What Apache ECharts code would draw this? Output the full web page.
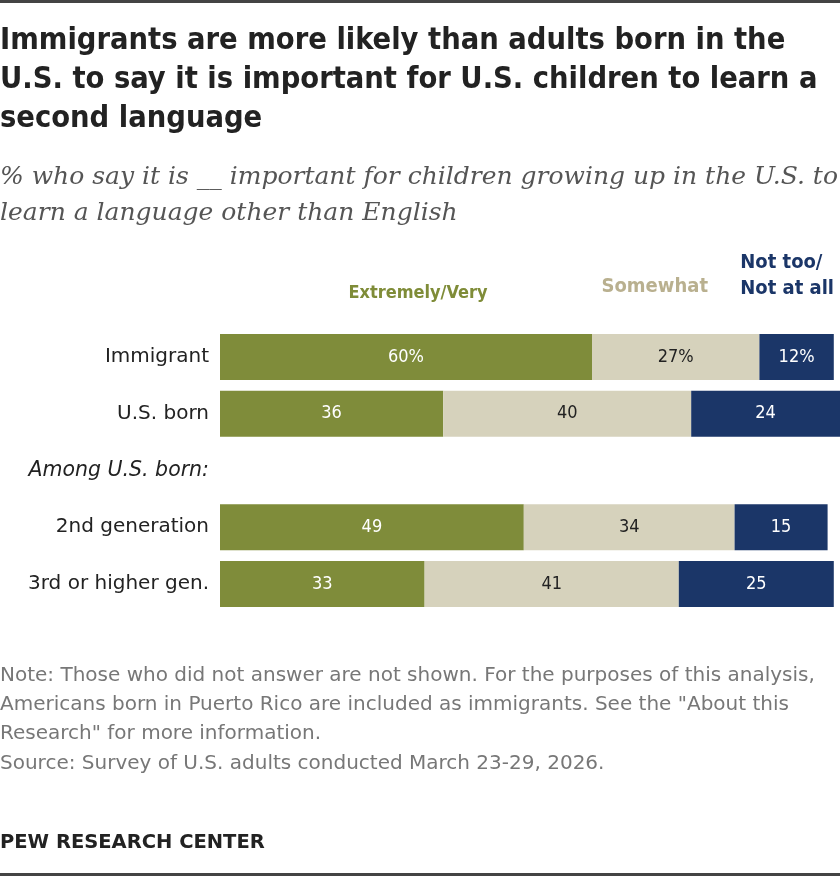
<!DOCTYPE html>
<html>
<head>
<meta charset="utf-8">
<script src="https://cdn.jsdelivr.net/npm/echarts@6/dist/echarts.min.js"></script>
<style>
  html, body { margin: 0; padding: 0; background: #fff; }
  #main { width: 840px; height: 876px; }
</style>
</head>
<body>
<div id="main"></div>
<script>
var categories = ['Immigrant', 'U.S. born', 'Among U.S. born:', '2nd generation', '3rd or higher gen.'];
var veryValues = [60, 36, null, 49, 33];
var somewhatValues = [27, 40, null, 34, 41];
var notValues = [12, 24, null, 15, 25];

var COND = '"DejaVu Sans Condensed", "Liberation Sans Narrow", sans-serif';
var SANS = '"DejaVu Sans", "Liberation Sans", sans-serif';
var myChart = echarts.init(document.getElementById('main'));

function labelFmt(p) {
  if (p.value == null) return '';
  return p.dataIndex === 0 ? p.value + '%' : String(p.value);
}

function barSeries(name, data, color, textColor) {
  return {
    name: name,
    type: 'bar',
    stack: 'total',
    data: data,
    barWidth: 46,
    itemStyle: { color: color },
    label: {
      show: true,
      position: 'inside',
      formatter: labelFmt,
      color: textColor,
      fontFamily: COND,
      fontSize: 18
    }
  };
}

var option = {
  backgroundColor: '#fff',
  animation: false,
  title: [
    {
      text: 'Immigrants are more likely than adults born in the\nU.S. to say it is important for U.S. children to learn a\nsecond language',
      left: 0, top: 22, padding: 0,
      textStyle: { fontFamily: COND, fontWeight: 'bold', fontSize: 30.5, lineHeight: 39, color: '#222' }
    },
    {
      text: '% who say it is __ important for children growing up in the U.S. to\nlearn a language other than English',
      left: 0, top: 159, padding: 0,
      textStyle: { fontFamily: '"DejaVu Serif", Georgia, serif', fontStyle: 'italic', fontWeight: 'normal', fontSize: 25, lineHeight: 36, color: '#555' }
    },
    {
      text: 'Note: Those who did not answer are not shown. For the purposes of this analysis,\nAmericans born in Puerto Rico are included as immigrants. See the "About this\nResearch" for more information.\nSource: Survey of U.S. adults conducted March 23-29, 2026.',
      left: 0, top: 661, padding: 0,
      textStyle: { fontFamily: SANS, fontWeight: 'normal', fontSize: 20, lineHeight: 29.3, color: '#777' }
    },
    {
      text: 'PEW RESEARCH CENTER',
      left: 0, top: 833, padding: 0,
      textStyle: { fontFamily: SANS, fontWeight: 'bold', fontSize: 19.5, color: '#222' }
    }
  ],
  graphic: [
    { type: 'rect', shape: { x: 0, y: 0, width: 840, height: 3 }, style: { fill: '#444' } },
    { type: 'rect', shape: { x: 0, y: 873, width: 840, height: 3 }, style: { fill: '#444' } },
    { type: 'text', x: 418, y: 293, style: { text: 'Extremely/Very', fill: '#7f8c38', font: 'bold 18px ' + COND, align: 'center', verticalAlign: 'middle' } },
    { type: 'text', x: 708, y: 287, style: { text: 'Somewhat', fill: '#b9b08f', font: 'bold 20px ' + COND, align: 'right', verticalAlign: 'middle' } },
    { type: 'text', right: 6, top: 250, style: { text: 'Not too/\nNot at all', fill: '#1b3668', font: 'bold 20px ' + COND, lineHeight: 26, align: 'left' } }
  ],
  grid: { left: 220, right: 0, top: 328.6, height: 283.8, containLabel: false },
  xAxis: {
    type: 'value', min: 0, max: 100, show: false
  },
  yAxis: {
    type: 'category',
    data: categories,
    inverse: true,
    axisLine: { show: false },
    axisTick: { show: false },
    axisLabel: {
      margin: 11,
      fontFamily: SANS,
      fontSize: 20,
      color: '#222',
      formatter: function (v) { return v === 'Among U.S. born:' ? '{it|' + v + '}' : v; },
      rich: { it: { fontFamily: SANS, fontSize: 20.5, fontStyle: 'italic', color: '#222' } }
    }
  },
  series: [
    barSeries('Extremely/Very', veryValues, '#7f8c3a', '#fff'),
    barSeries('Somewhat', somewhatValues, '#d6d2bc', '#222'),
    barSeries('Not too/Not at all', notValues, '#1b3668', '#fff')
  ]
};
myChart.setOption(option);
</script>
</body>
</html>
